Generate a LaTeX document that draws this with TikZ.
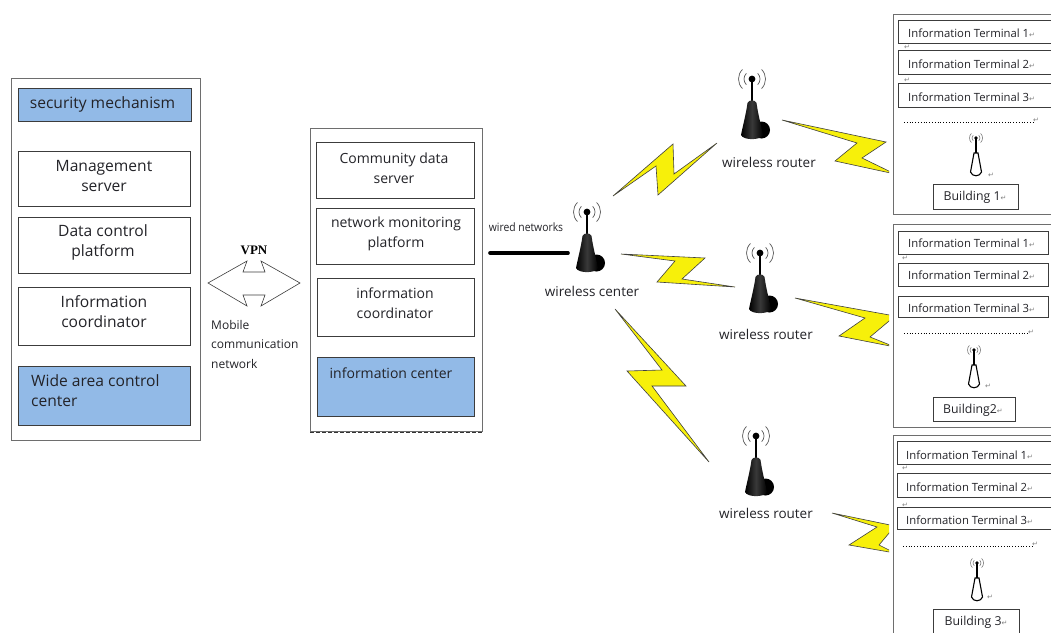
\documentclass[tikz,border=0pt]{standalone}
\usepackage{fontspec}
\setmainfont{Open Sans}
\newfontfamily\retfont{DejaVu Sans}
\newfontfamily\vpnfont{Liberation Serif}
\usetikzlibrary{shapes.geometric}
\definecolor{panelblue}{RGB}{146,186,231}
\definecolor{boltyellow}{RGB}{247,240,10}
\definecolor{inkc}{RGB}{35,35,40}
\definecolor{linec}{RGB}{60,60,60}
\definecolor{outerc}{RGB}{110,110,110}
\newcommand{\retm}{{\retfont\fontsize{7}{7}\selectfont\textcolor{gray}{↵}}}
\tikzset{
  cellbox/.style={draw=linec,line width=0.9pt,fill=white,inner sep=0pt},
  bluebox/.style={draw=linec,line width=0.9pt,fill=panelblue,inner sep=0pt},
  outerbox/.style={draw=outerc,line width=0.8pt,fill=white,inner sep=0pt},
  lbl/.style={text=inkc,inner sep=0pt,align=center,font=\fontsize{14}{20}\selectfont},
  lblwide/.style={text=inkc,inner sep=0pt,align=center,font=\fontsize{15.6}{20}\selectfont},
  lblleft/.style={text=inkc,inner sep=0pt,align=left,font=\fontsize{15.6}{20}\selectfont},
  small/.style={text=inkc,inner sep=0pt,align=left,font=\fontsize{12}{19.5}\selectfont},
  routerlbl/.style={text=inkc,inner sep=0pt,font=\fontsize{13.5}{16}\selectfont},
  term/.style={text=inkc,inner sep=0pt,anchor=west,font=\fontsize{11.3}{13}\selectfont},
  namelbl/.style={text=inkc,inner sep=0pt,font=\fontsize{12.3}{14}\selectfont},
  stray/.style={inner sep=0pt},
  bolt/.style={fill=boltyellow,draw=black!75,line width=0.6pt,line join=miter},
  towerpic/.pic={
    \draw[line width=2pt] (0,0) -- (0,24);
    \fill (0,0) circle (3.4);
    \foreach \r in {8,13.5}{
      \draw[line width=0.7pt,black!65] (0,0) ++(135:\r) arc (135:225:\r);
      \draw[line width=0.7pt,black!65] (0,0) ++(45:\r) arc (45:-45:\r);
    }
    \fill (9.5,51) circle (8.5);
    \path[left color=black,right color=black,middle color=gray!45!black]
      (-4.5,24) .. controls (-3,20.5) and (3,20.5) .. (4.5,24)
      .. controls (6,35) and (9,46) .. (11,56)
      .. controls (9,61.5) and (-9,61.5) .. (-11,56)
      .. controls (-9,46) and (-6,35) .. (-4.5,24) -- cycle;
  },
  smalltower/.pic={
    \draw[line width=1.6pt] (0,0) -- (0,15);
    \fill (0,0) circle (1.8);
    \foreach \r in {4,6.5}{
      \draw[line width=0.5pt,black!60] (0,0) ++(135:\r) arc (135:225:\r);
      \draw[line width=0.5pt,black!60] (0,0) ++(45:\r) arc (45:-45:\r);
    }
    \draw[line width=1.1pt,fill=white] (-2,15) -- (2,15) -- (5.5,34)
      .. controls (4,39) and (-4,39) .. (-5.5,34) -- cycle;
  }
}
% name, x1,y1,x2,y2, style
\newcommand{\bx}[6]{\node[#6,minimum width={#4-#2},minimum height={#5-#3}] (#1) at ({(#2+#4)/2},{(#3+#5)/2}) {};}
\begin{document}
\begin{tikzpicture}[x=1pt,y=-1pt]
\useasboundingbox (0,0) rectangle (1051,632);
\fill[white] (0,0) rectangle (1051,632);

% left panel
\bx{leftpanel}{11}{78}{200}{440}{outerbox}
\bx{secbox}{18}{88}{191}{121}{bluebox}
\bx{mgmtbox}{18}{151}{190}{206}{cellbox}
\bx{databox}{18}{217}{190}{273}{cellbox}
\bx{coordbox}{18}{287}{190}{345}{cellbox}
\bx{widebox}{18}{366}{190}{425}{bluebox}
\node[lblwide] (sectxt) at (102.5,104) {security mechanism};
\node[lblwide] (mgmttxt) at (104,176) {Management\\server};
\node[lblwide] (datatxt) at (103,242) {Data control\\platform};
\node[lblwide] (coordtxt) at (104,312) {Information\\coordinator};
\node[lblleft,anchor=west] (widetxt) at (31,391) {Wide area control\\center};

% middle panel
\bx{midpanel}{310}{128}{482}{431}{outerbox}
\draw[line width=1.6pt,dash pattern=on 4pt off 2pt,black!80] (310,432.5) -- (482,432.5);
\bx{commbox}{316}{142}{474}{198}{cellbox}
\bx{monbox}{316}{208}{474}{264}{cellbox}
\bx{icoordbox}{317}{278}{474}{336}{cellbox}
\bx{icenterbox}{317}{357}{474}{416}{bluebox}
\node[lbl] (commtxt) at (394,168) {Community data\\server};
\node[lbl] (montxt) at (396,234) {network monitoring\\platform};
\node[lbl] (icoordtxt) at (395,303.5) {information\\coordinator};
\node[lbl] (icentertxt) at (391,373.5) {information center};

% VPN arrow
\node[text=black,inner sep=0pt,font=\vpnfont\bfseries\fontsize{13}{13}\selectfont] (vpntxt) at (254,250) {VPN};
\draw[line width=0.6pt,draw=linec,fill=white] (208,283) -- (247,261) -- (243,272) -- (265,272) -- (261,261) -- (300,283) -- (261,306) -- (265,295) -- (243,295) -- (247,306) -- cycle;
\node[small,anchor=north west] (mobiletxt) at (211,320) {Mobile\\communication\\network};

% wired link
\node[inner sep=0pt,text=inkc,font=\fontsize{11.5}{12}\selectfont,xscale=0.9] (wiredtxt) at (526,227) {wired networks};
\coordinate (wiredA) at (490,253);
\coordinate (wiredB) at (568,253);
\draw[line width=3.6pt,line cap=round,black] (wiredA) -- (wiredB);

% bolts
\begin{scope}
\clip (0,0) rectangle (889,632);
\draw[bolt] (613,196) -- (673,144) -- (674,174) -- (717,143) -- (658,195) -- (656,166) -- cycle;
\draw[bolt] (621,254) -- (705,258) -- (682,279) -- (735,287) -- (657,282) -- (675,261) -- cycle;
\draw[bolt] (615,309) -- (686,386) -- (652,386) -- (709,462) -- (627,371) -- (662,370) -- cycle;
\draw[bolt] (782,120) -- (886,142) -- (862,158) -- (895,174) -- (835,161) -- (857,143) -- cycle;
\draw[bolt] (795,298) -- (895,316) -- (870,337) -- (895,347) -- (839,336) -- (865,318) -- cycle;
\draw[bolt] (832,513) -- (895,526) -- (879,545) -- (895,553) -- (849,545) -- (877,527) -- cycle;
\end{scope}

% towers
\pic at (587,212) {towerpic};
\pic at (752,79) {towerpic};
\pic at (760,253) {towerpic};
\pic at (756,436) {towerpic};
\node[routerlbl] (centertxt) at (592,291) {wireless center};
\node[routerlbl] (r1txt) at (769,162) {wireless router};
\node[routerlbl] (r2txt) at (766,334) {wireless router};
\node[routerlbl] (r3txt) at (766,513) {wireless router};

% building 1
\bx{bldA}{893}{14}{1062}{214}{outerbox}
\bx{tA1}{898}{20}{1060}{43}{cellbox}
\bx{tA2}{898}{50}{1060}{74}{cellbox}
\bx{tA3}{898}{83}{1060}{107}{cellbox}
\node[term] (tA1t) at (908,33) {Information Terminal 1\retm};
\node[term] (tA2t) at (908,64) {Information Terminal 2\retm};
\node[term] (tA3t) at (908,97) {Information Terminal 3\retm};
\node[stray] (sA1) at (907,47) {\retm};
\node[stray] (sA2) at (907,80) {\retm};
\draw[dotted,line width=0.8pt] (904,122) -- (1033,122);
\node[stray] (sA3) at (1036,120) {\retm};
\pic at (976,138) {smalltower};
\node[stray] (sA4) at (991,175) {\retm};
\bx{nameA}{933}{184}{1018}{209}{cellbox}
\node[namelbl] (nameAt) at (975,197.5) {Building 1\retm};

% building 2
\bx{bldB}{893}{224}{1062}{427}{outerbox}
\bx{tB1}{898}{231}{1048}{254}{cellbox}
\bx{tB2}{898}{263}{1048}{286}{cellbox}
\bx{tB3}{898}{296}{1048}{317}{cellbox}
\node[term] (tB1t) at (908,243) {Information Terminal 1\retm};
\node[term] (tB2t) at (908,275) {Information Terminal 2\retm};
\node[term] (tB3t) at (908,308) {Information Terminal 3\retm};
\node[stray] (sB1) at (905,258) {\retm};
\draw[dotted,line width=0.8pt] (904,333) -- (1028,333);
\node[stray] (sB2) at (1031,332) {\retm};
\pic at (974,350) {smalltower};
\node[stray] (sB3) at (988,386) {\retm};
\bx{nameB}{933}{397}{1015}{421}{cellbox}
\node[namelbl] (nameBt) at (973,410) {Building2\retm};

% building 3
\bx{bldC}{893}{435}{1062}{650}{outerbox}
\bx{tC1}{897}{441}{1060}{464}{cellbox}
\bx{tC2}{897}{473}{1060}{497}{cellbox}
\bx{tC3}{897}{507}{1060}{529}{cellbox}
\node[term] (tC1t) at (906,455) {Information Terminal 1\retm};
\node[term] (tC2t) at (906,487.5) {Information Terminal 2\retm};
\node[term] (tC3t) at (906,520) {Information Terminal 3\retm};
\node[stray] (sC1) at (905,468) {\retm};
\node[stray] (sC2) at (905,505) {\retm};
\draw[dotted,line width=0.8pt] (903,546) -- (1032,546);
\node[stray] (sC3) at (1035,544) {\retm};
\pic at (977,563) {smalltower};
\node[stray] (sC4) at (990,597) {\retm};
\bx{nameC}{933}{609}{1019}{640}{cellbox}
\node[namelbl] (nameCt) at (976,622) {Building 3\retm};
\end{tikzpicture}
\end{document}
